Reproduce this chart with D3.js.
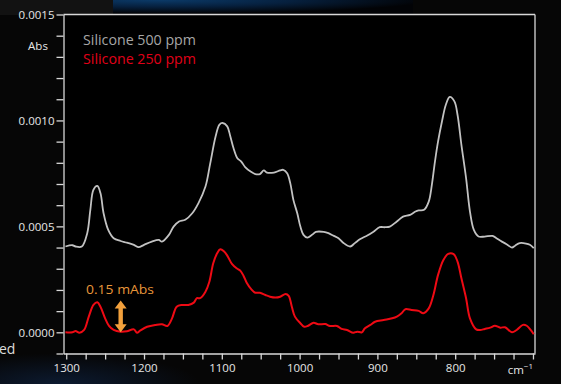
<!DOCTYPE html>
<html><head><meta charset="utf-8">
<script src="https://cdn.jsdelivr.net/npm/d3@7"></script>
<style>html,body{margin:0;padding:0;background:#060606;overflow:hidden}</style>
</head><body>
<svg id="c" width="561" height="384"></svg>
<script>
// ---- data (wavenumber in cm-1, absorbance in Abs) ----
const wavenumbers500 = [1301,1292,1288,1280,1273,1269,1265,1260,1256,1252,1246,1239,1230,1222,1213,1207,1200,1190,1181,1177,1168,1162,1155,1147,1138,1130,1121,1115,1108,1103,1099,1093,1089,1085,1080,1075,1070,1063,1057,1051,1046,1042,1033,1025,1021,1016,1012,1008,1003,999,995,990,984,979,969,963,956,950,944,935,929,922,913,905,897,890,884,875,867,858,851,847,840,834,830,826,822,817,812,807,801,797,792,786,781,776,770,762,752,747,740,734,727,723,717,709,704,699];
const abs500 = [0.000405,0.000411,0.000405,0.000405,0.000468,0.000578,0.000673,0.000691,0.000657,0.000562,0.000483,0.000444,0.000431,0.000423,0.000413,0.000402,0.000413,0.000428,0.000436,0.000428,0.000460,0.000499,0.000523,0.000531,0.000562,0.000610,0.000688,0.000795,0.000924,0.000980,0.000988,0.000972,0.000924,0.000870,0.000822,0.000806,0.000780,0.000759,0.000747,0.000747,0.000764,0.000754,0.000754,0.000764,0.000767,0.000751,0.000704,0.000625,0.000562,0.000499,0.000460,0.000447,0.000460,0.000474,0.000474,0.000468,0.000455,0.000444,0.000423,0.000405,0.000421,0.000440,0.000457,0.000475,0.000496,0.000496,0.000499,0.000523,0.000546,0.000554,0.000570,0.000575,0.000578,0.000617,0.000696,0.000806,0.000901,0.000995,0.001074,0.001111,0.001090,0.001027,0.000885,0.000728,0.000570,0.000483,0.000452,0.000452,0.000455,0.000444,0.000428,0.000416,0.000400,0.000409,0.000421,0.000419,0.000413,0.000397];
const wavenumbers250 = [1301,1292,1288,1283,1277,1271,1265,1260,1256,1250,1245,1239,1230,1222,1213,1209,1205,1196,1185,1177,1170,1164,1158,1151,1143,1136,1132,1128,1121,1116,1111,1106,1102,1097,1093,1087,1081,1076,1072,1068,1062,1057,1051,1044,1038,1031,1025,1018,1014,1010,1006,999,994,989,982,976,967,961,952,946,939,931,926,920,916,909,903,892,881,875,869,864,856,847,841,834,828,822,815,809,802,797,792,786,781,773,768,762,755,749,742,736,727,721,713,708,703,699];
const abs250 = [0.000000,0.000000,0.000006,-0.000002,0.000011,0.000074,0.000129,0.000142,0.000121,0.000066,0.000030,0.000011,0.000003,0.000005,0.000014,-0.000002,0.000008,0.000026,0.000035,0.000038,0.000030,0.000066,0.000121,0.000129,0.000129,0.000140,0.000161,0.000161,0.000192,0.000239,0.000326,0.000373,0.000392,0.000381,0.000362,0.000323,0.000302,0.000290,0.000266,0.000234,0.000203,0.000187,0.000187,0.000176,0.000168,0.000164,0.000168,0.000181,0.000172,0.000121,0.000074,0.000043,0.000026,0.000031,0.000045,0.000038,0.000039,0.000030,0.000030,0.000016,0.000011,-0.000002,0.000003,0.000000,0.000019,0.000035,0.000050,0.000058,0.000066,0.000074,0.000090,0.000109,0.000105,0.000101,0.000090,0.000113,0.000176,0.000271,0.000342,0.000370,0.000369,0.000334,0.000255,0.000161,0.000066,0.000014,0.000011,0.000016,0.000022,0.000031,0.000022,0.000024,0.000000,0.000011,0.000035,0.000031,0.000011,-0.000009];
const seriesNames = ["Silicone 500 ppm", "Silicone 250 ppm"];
const xMajorTicks = [1300, 1200, 1100, 1000, 900, 800];
const xTicks = d3.range(1300, 699, -25);
const yMajorTicks = [0, 0.0005, 0.0010, 0.0015];
const yTickLabels = ["0.0000", "0.0005", "0.0010", "0.0015"];
const yTicks = d3.range(-1, 16).map(i => i * 0.0001);
const annotationLabel = "0.15 mAbs";
const arrowWavenumber = [1230];
const arrowRange = [0, 0.00015];

// ---- layout ----
const svg = d3.select("#c");
const W = 561, H = 384;
const L = 63.5, R = 535, T = 14.5, B = 353.5;
const x = d3.scaleLinear().domain([1303.5, 697.4]).range([L, R]);
const y = d3.scaleLinear().domain([-0.0001, 0.0015]).range([B, T]);

// background
const defs = svg.append("defs");
const g1 = defs.append("radialGradient").attr("id", "topblue").attr("cx", "0.15").attr("cy", "0").attr("r", "0.9");
g1.append("stop").attr("offset", "0").attr("stop-color", "#0b3a68");
g1.append("stop").attr("offset", "0.5").attr("stop-color", "#06203e");
g1.append("stop").attr("offset", "1").attr("stop-color", "#020306");
const g2 = defs.append("radialGradient").attr("id", "botblue").attr("cx", "0.3").attr("cy", "1").attr("r", "0.7");
g2.append("stop").attr("offset", "0").attr("stop-color", "#0c1a30");
g2.append("stop").attr("offset", "1").attr("stop-color", "#060606");
svg.append("rect").attr("width", W).attr("height", H).attr("fill", "#060606");
svg.append("rect").attr("x", 0).attr("y", 0).attr("width", 113).attr("height", 15).attr("fill", "#121212");
svg.append("rect").attr("x", 113).attr("y", 0).attr("width", 300).attr("height", 15).attr("fill", "url(#topblue)");
svg.append("rect").attr("x", 0).attr("y", 340).attr("width", 200).attr("height", 44).attr("fill", "url(#botblue)");
svg.append("rect").attr("x", L).attr("y", T).attr("width", R - L).attr("height", B - T).attr("fill", "#000");

defs.append("clipPath").attr("id", "clip").append("rect").attr("x", L).attr("y", T).attr("width", R - L).attr("height", B - T);

const axisColor = "#d8d8d8";
const font = "'Open Sans', 'Noto Sans', sans-serif";

// x axis
const xAxis = d3.axisBottom(x).tickValues(xTicks).tickSize(6).tickSizeOuter(0)
  .tickFormat(d => xMajorTicks.includes(d) ? String(d) : "");
const gx = svg.append("g").attr("transform", `translate(0,${B})`).call(xAxis);
gx.select(".domain").attr("stroke", axisColor).attr("stroke-width", 1.3);
gx.selectAll(".tick line").attr("stroke", axisColor).attr("stroke-width", 1.3);
gx.selectAll(".tick text").attr("fill", "#e6e6e6").attr("font-size", 11.5).attr("font-family", font).attr("dy", "0.85em");
svg.append("text").attr("x", 533).attr("y", 374).attr("text-anchor", "end").attr("fill", "#e6e6e6")
  .attr("font-size", 11.5).attr("font-family", font).text("cm").append("tspan").attr("dy", -5).attr("font-size", 8).text("−1");

// y axis
const yAxis = d3.axisLeft(y).tickValues(yTicks).tickSize(7).tickSizeOuter(0)
  .tickFormat(d => { const i = yMajorTicks.findIndex(v => Math.abs(v - d) < 1e-9); return i >= 0 ? yTickLabels[i] : ""; });
const gy = svg.append("g").attr("transform", `translate(${L},0)`).call(yAxis);
gy.select(".domain").attr("stroke", axisColor).attr("stroke-width", 1.3);
gy.selectAll(".tick line").attr("stroke", axisColor).attr("stroke-width", 1.3);
gy.selectAll(".tick text").attr("fill", "#e6e6e6").attr("font-size", 11.5).attr("font-family", font).attr("x", -9);
svg.append("text").attr("x", 38).attr("y", 50).attr("text-anchor", "middle").attr("fill", "#e6e6e6")
  .attr("font-size", 11.5).attr("font-family", font).text("Abs");

// frame top / right
svg.append("line").attr("x1", L).attr("x2", R).attr("y1", T).attr("y2", T).attr("stroke", axisColor).attr("stroke-width", 1.3);
svg.append("line").attr("x1", R).attr("x2", R).attr("y1", T).attr("y2", B).attr("stroke", axisColor).attr("stroke-width", 1.3);

// lines
const line = d3.line().x(d => x(d[0])).y(d => y(d[1])).curve(d3.curveCatmullRom.alpha(0.5));
const plot = svg.append("g").attr("clip-path", "url(#clip)");
plot.append("path").datum(d3.zip(wavenumbers500, abs500)).attr("d", line)
  .attr("fill", "none").attr("stroke", "#c2c2c2").attr("stroke-width", 1.8);
plot.append("path").datum(d3.zip(wavenumbers250, abs250)).attr("d", line)
  .attr("fill", "none").attr("stroke", "#ee0a14").attr("stroke-width", 2);

// legend
const legColors = ["#a6a6a6", "#e00018"];
seriesNames.forEach((n, i) => {
  svg.append("text").attr("x", 83).attr("y", 45 + i * 18.5).attr("fill", legColors[i])
    .attr("font-size", 14.5).attr("font-family", font).attr("textLength", 113).attr("lengthAdjust", "spacingAndGlyphs").text(n);
});

// annotation arrow
const ax = x(arrowWavenumber[0]), ay0 = y(arrowRange[0]), ay1 = y(arrowRange[1]);
const hw = 6, hh = 8, sw = 2.2;
const arrowPts = [[ax, ay1], [ax + hw, ay1 + hh], [ax + sw, ay1 + hh], [ax + sw, ay0 - hh], [ax + hw, ay0 - hh],
  [ax, ay0], [ax - hw, ay0 - hh], [ax - sw, ay0 - hh], [ax - sw, ay1 + hh], [ax - hw, ay1 + hh]];
svg.append("path").attr("d", d3.line()(arrowPts) + "Z").attr("fill", "#f2a03c");
svg.append("text").attr("x", 86).attr("y", 294).attr("fill", "#e8963a").attr("font-size", 13.5)
  .attr("font-family", font).attr("textLength", 68).attr("lengthAdjust", "spacingAndGlyphs").text(annotationLabel);

// stray slide text at left edge
svg.append("text").attr("x", -1).attr("y", 354).attr("fill", "#dcdcdc").attr("font-size", 14).attr("font-family", font).text("ed");
</script>
</body></html>
